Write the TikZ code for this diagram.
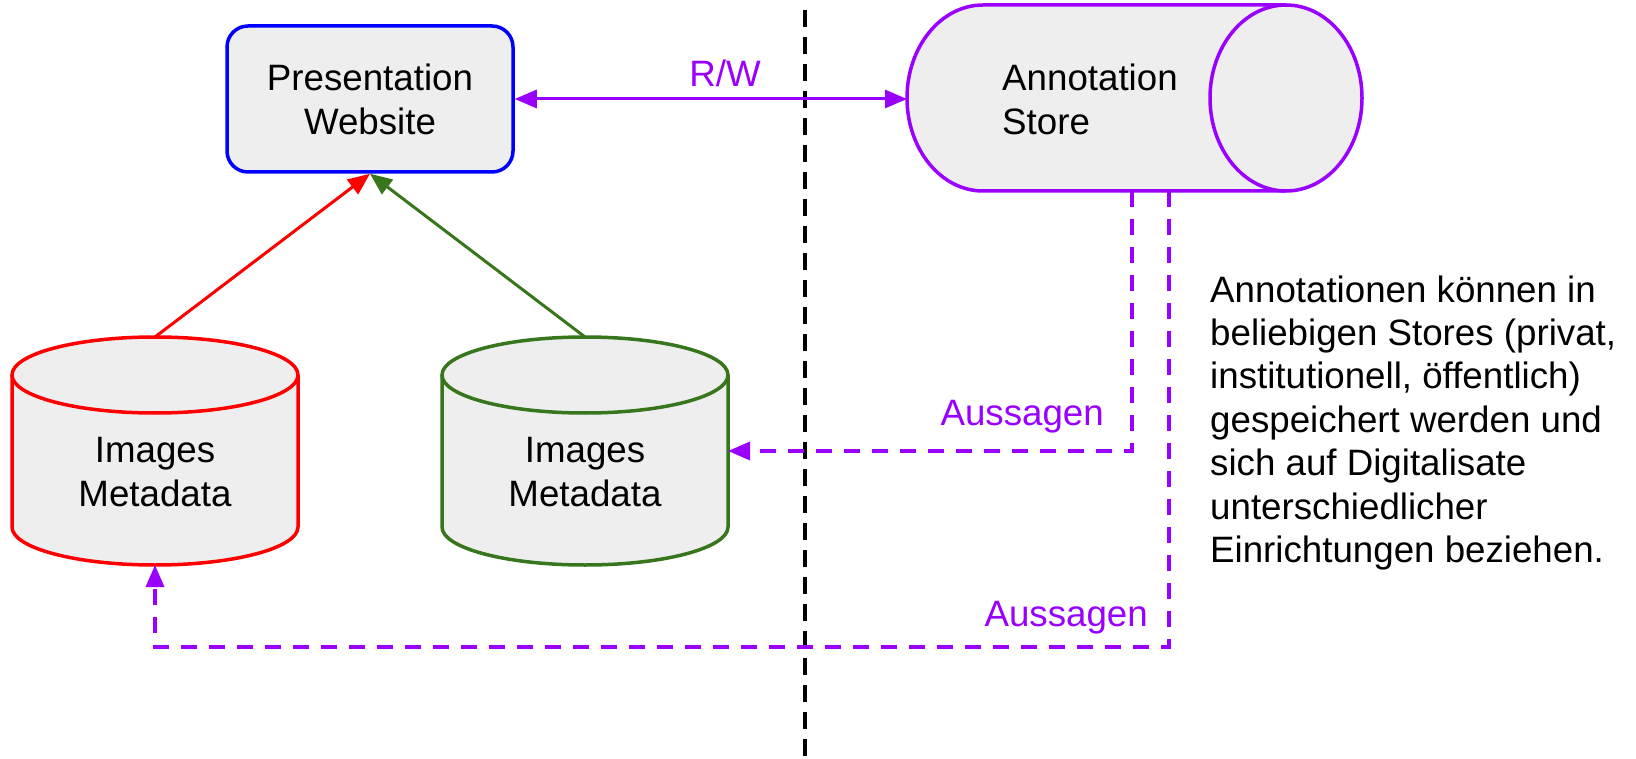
\documentclass[tikz,border=0pt]{standalone}
\usepackage{fontspec}
\setmainfont{Liberation Sans}
\usetikzlibrary{arrows.meta}
\definecolor{gpurple}{HTML}{9900FF}
\definecolor{ggreen}{HTML}{38761D}
\definecolor{gred}{HTML}{FF0000}
\definecolor{gblue}{HTML}{0000FF}
\definecolor{gfill}{HTML}{EEEEEE}
\tikzset{
  txt/.style={inner sep=0pt, font=\fontsize{36.7}{44}\selectfont, align=center},
  presbox/.style={draw=gblue, fill=gfill, line width=3.5pt, rounded corners=21pt,
    minimum width=286pt, minimum height=146pt, inner sep=0pt,
    font=\fontsize{36.7}{44}\selectfont, align=center},
  cylline/.style={line width=3.5pt, fill=gfill},
  tipA/.style={-{Triangle[length=22pt,width=18pt]}},
  tipAB/.style={{Triangle[length=22pt,width=18pt]}-{Triangle[length=22pt,width=18pt]}},
  solidarrow/.style={line width=3pt},
  purpledash/.style={draw=gpurple, line width=3.5pt, dash pattern=on 16pt off 12pt},
  divider/.style={draw=black, line width=3.5pt, dash pattern=on 17pt off 10pt},
}
\begin{document}
\begin{tikzpicture}[x=1pt, y=-1pt]
\useasboundingbox (0,0) rectangle (1636,759);

% divider
\coordinate (divtop) at (805,10);
\coordinate (divbot) at (805,759);
\draw[divider] (divtop) -- (divbot);

% Presentation website
\node[presbox] (pres) at (370,99) {Presentation\\Website};

% Annotation store (horizontal cylinder)
\filldraw[cylline, draw=gpurple] (1286,5) -- (983,5)
  arc[start angle=90, end angle=270, x radius=76pt, y radius=93pt] -- (1286,191);
\filldraw[cylline, draw=gpurple] (1286,98) ellipse [x radius=76, y radius=93];
\node[txt, align=left, anchor=west] (anntext) at (1002,99.8) {Annotation\\Store};
\coordinate (annL) at (907,99);
\coordinate (annB1) at (1132,191);
\coordinate (annB2) at (1169,191);

% Red cylinder
\filldraw[cylline, draw=gred] (12,375) -- (12,527)
  arc[start angle=180, end angle=360, x radius=143pt, y radius=38pt] -- (298,375);
\filldraw[cylline, draw=gred] (155,375) ellipse [x radius=143, y radius=38];
\node[txt] (redtext) at (155,471.9) {Images\\Metadata};
\coordinate (redtop) at (155,337);
\coordinate (redbot) at (155,565);

% Green cylinder
\filldraw[cylline, draw=ggreen] (442,375) -- (442,527)
  arc[start angle=180, end angle=360, x radius=143pt, y radius=38pt] -- (728,375);
\filldraw[cylline, draw=ggreen] (585,375) ellipse [x radius=143, y radius=38];
\node[txt] (greentext) at (585,471.9) {Images\\Metadata};
\coordinate (greentop) at (585,337);
\coordinate (greenR) at (728,451);

% connectors
\draw[solidarrow, gpurple, tipAB] (pres.east) -- (annL);
\node[txt, text=gpurple, anchor=base] (rw) at (725,87) {R/W};

\draw[solidarrow, gred, tipA] (redtop) -- (pres.south);
\draw[solidarrow, ggreen, tipA] (greentop) -- (pres.south);

\draw[purpledash, tipA] (annB1) |- (greenR);
\node[txt, text=gpurple, anchor=base east] (auss1) at (1104,425) {Aussagen};

\draw[purpledash, tipA] (annB2) -- ++(0,456) -| (redbot);
\node[txt, text=gpurple, anchor=base east] (auss2) at (1148,626) {Aussagen};

% explanation text
\node[txt, align=left, anchor=base west, font=\fontsize{36.7}{43.4}\selectfont] (expl) at (1210,562.4)
  {Annotationen können in\\beliebigen Stores (privat,\\institutionell, öffentlich)\\gespeichert werden und\\sich auf Digitalisate\\unterschiedlicher\\Einrichtungen beziehen.};
\end{tikzpicture}
\end{document}
